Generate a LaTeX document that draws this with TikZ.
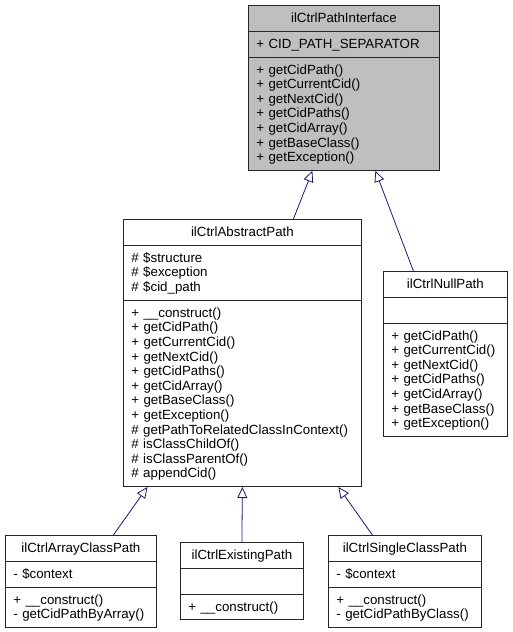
\documentclass[tikz,border=0pt]{standalone}
\usepackage{fontspec}
\setmainfont{Liberation Sans}
\usetikzlibrary{shapes.multipart,arrows.meta}
\definecolor{edgeblue}{RGB}{25,25,112}
\definecolor{ifacegray}{RGB}{191,191,191}
\setlength{\lineskiplimit}{-20pt}
\newcommand{\rowstrut}{\rule[-3.2pt]{0pt}{14.6pt}}
\newcommand{\classtitle}[1]{\hbox to \hsize{\hss\rowstrut #1\hss}}
\tikzset{class node/.style={rectangle split,rectangle split parts=3,draw=black!85,line width=0.8pt,
            font=\fontsize{13.3}{14.6}\selectfont,align=left,
            inner xsep=8pt,inner ysep=5.2pt,anchor=north west},
         inherit/.style={draw=edgeblue,line width=0.8pt,-{Triangle[open,length=11pt,width=10pt,fill=white]}},
            }

\begin{document}
\begin{tikzpicture}[x=1pt,y=1pt]
    \useasboundingbox (0,0) rectangle (513,-632);

    \node[class node,fill=ifacegray,text width=175pt] (iface) at (248,-5)
        {\classtitle{ilCtrlPathInterface}
         \nodepart{two}\rowstrut + CID\_PATH\_SEPARATOR
         \nodepart{three}\rowstrut + getCidPath()\\ \rowstrut + getCurrentCid()\\ \rowstrut + getNextCid()\\
         \rowstrut + getCidPaths()\\ \rowstrut + getCidArray()\\ \rowstrut + getBaseClass()\\ \rowstrut + getException()};

    \node[class node,text width=222pt] (abstract) at (123,-219)
        {\classtitle{ilCtrlAbstractPath}
         \nodepart{two}\rowstrut \# \$structure\\ \rowstrut \# \$exception\\ \rowstrut \# \$cid\_path
         \nodepart{three}\rowstrut + \_\_construct()\\ \rowstrut + getCidPath()\\ \rowstrut + getCurrentCid()\\
         \rowstrut + getNextCid()\\ \rowstrut + getCidPaths()\\ \rowstrut + getCidArray()\\ \rowstrut + getBaseClass()\\
         \rowstrut + getException()\\ \rowstrut \# getPathToRelatedClassInContext()\\ \rowstrut \# isClassChildOf()\\
         \rowstrut \# isClassParentOf()\\ \rowstrut \# appendCid()};

    \node[class node,text width=108pt] (null) at (383,-271)
        {\classtitle{ilCtrlNullPath}
         \nodepart{two}\rowstrut
         \nodepart{three}\rowstrut + getCidPath()\\ \rowstrut + getCurrentCid()\\ \rowstrut + getNextCid()\\
         \rowstrut + getCidPaths()\\ \rowstrut + getCidArray()\\ \rowstrut + getBaseClass()\\ \rowstrut + getException()};

    \node[class node,text width=135pt] (array) at (5,-535)
        {\classtitle{ilCtrlArrayClassPath}
         \nodepart{two}\rowstrut - \$context
         \nodepart{three}\rowstrut + \_\_construct()\\ \rowstrut - getCidPathByArray()};

    \node[class node,text width=107pt] (existing) at (180,-542)
        {\classtitle{ilCtrlExistingPath}
         \nodepart{two}\rowstrut
         \nodepart{three}\rowstrut + \_\_construct()};

    \node[class node,text width=137pt] (single) at (328,-535)
        {\classtitle{ilCtrlSingleClassPath}
         \nodepart{two}\rowstrut - \$context
         \nodepart{three}\rowstrut + \_\_construct()\\ \rowstrut - getCidPathByClass()};

    \draw[inherit] ([xshift=51pt]abstract.north) -- ([xshift=-31.5pt]iface.south);
    \draw[inherit] ([xshift=-32pt]null.north) -- ([xshift=31.5pt]iface.south);
    \draw[inherit] ([xshift=32.5pt]array.north) -- ([xshift=-95pt]abstract.south);
    \draw[inherit] (existing.north) -- (abstract.south);
    \draw[inherit] ([xshift=-32.5pt]single.north) -- ([xshift=96pt]abstract.south);
\end{tikzpicture}
\end{document}
